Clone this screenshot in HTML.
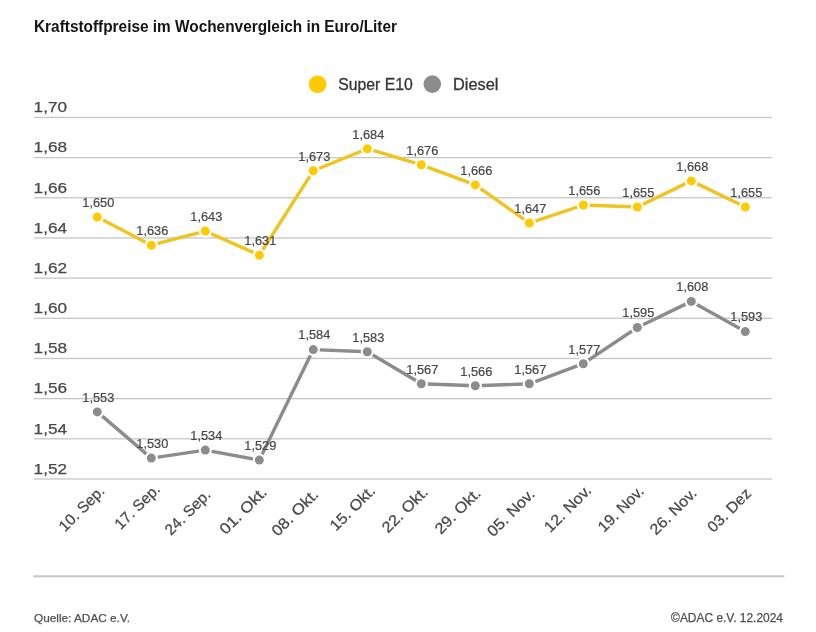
<!DOCTYPE html><html><head><meta charset="utf-8"><style>html,body{margin:0;padding:0;background:#fff;width:816px;height:632px;overflow:hidden}svg{display:block;will-change:transform}text{font-family:"Liberation Sans",sans-serif}</style></head><body>
<svg width="816" height="632" viewBox="0 0 816 632">
<rect width="816" height="632" fill="#fff"/>
<text x="34" y="31.8" font-size="16.3" font-weight="bold" fill="#141414" textLength="363" lengthAdjust="spacingAndGlyphs">Kraftstoffpreise im Wochenvergleich in Euro/Liter</text>
<circle cx="317.6" cy="84.3" r="8.8" fill="#fdcb00"/>
<text x="338.3" y="89.9" font-size="15.6" fill="#363636" stroke="#363636" stroke-width="0.3" textLength="74.5" lengthAdjust="spacingAndGlyphs">Super E10</text>
<circle cx="432.3" cy="84.1" r="8.8" fill="#8c8c8c"/>
<text x="453" y="89.7" font-size="15.6" fill="#363636" stroke="#363636" stroke-width="0.3" textLength="45.5" lengthAdjust="spacingAndGlyphs">Diesel</text>
<rect x="34" y="116.80" width="738" height="1.3" fill="#c6c6c6"/>
<text x="33.6" y="112.2" font-size="15.5" fill="#484848" stroke="#484848" stroke-width="0.25" textLength="33.4" lengthAdjust="spacingAndGlyphs">1,70</text>
<rect x="34" y="156.97" width="738" height="1.3" fill="#c6c6c6"/>
<text x="33.6" y="152.3" font-size="15.5" fill="#484848" stroke="#484848" stroke-width="0.25" textLength="33.4" lengthAdjust="spacingAndGlyphs">1,68</text>
<rect x="34" y="197.14" width="738" height="1.3" fill="#c6c6c6"/>
<text x="33.6" y="192.5" font-size="15.5" fill="#484848" stroke="#484848" stroke-width="0.25" textLength="33.4" lengthAdjust="spacingAndGlyphs">1,66</text>
<rect x="34" y="237.31" width="738" height="1.3" fill="#c6c6c6"/>
<text x="33.6" y="232.7" font-size="15.5" fill="#484848" stroke="#484848" stroke-width="0.25" textLength="33.4" lengthAdjust="spacingAndGlyphs">1,64</text>
<rect x="34" y="277.48" width="738" height="1.3" fill="#c6c6c6"/>
<text x="33.6" y="272.8" font-size="15.5" fill="#484848" stroke="#484848" stroke-width="0.25" textLength="33.4" lengthAdjust="spacingAndGlyphs">1,62</text>
<rect x="34" y="317.65" width="738" height="1.3" fill="#c6c6c6"/>
<text x="33.6" y="313.0" font-size="15.5" fill="#484848" stroke="#484848" stroke-width="0.25" textLength="33.4" lengthAdjust="spacingAndGlyphs">1,60</text>
<rect x="34" y="357.82" width="738" height="1.3" fill="#c6c6c6"/>
<text x="33.6" y="353.2" font-size="15.5" fill="#484848" stroke="#484848" stroke-width="0.25" textLength="33.4" lengthAdjust="spacingAndGlyphs">1,58</text>
<rect x="34" y="397.99" width="738" height="1.3" fill="#c6c6c6"/>
<text x="33.6" y="393.3" font-size="15.5" fill="#484848" stroke="#484848" stroke-width="0.25" textLength="33.4" lengthAdjust="spacingAndGlyphs">1,56</text>
<rect x="34" y="438.16" width="738" height="1.3" fill="#c6c6c6"/>
<text x="33.6" y="433.5" font-size="15.5" fill="#484848" stroke="#484848" stroke-width="0.25" textLength="33.4" lengthAdjust="spacingAndGlyphs">1,54</text>
<rect x="34" y="478.33" width="738" height="1.3" fill="#c6c6c6"/>
<text x="33.6" y="473.7" font-size="15.5" fill="#484848" stroke="#484848" stroke-width="0.25" textLength="33.4" lengthAdjust="spacingAndGlyphs">1,52</text>
<polyline points="97.3,217.1 151.3,245.2 205.3,231.1 259.3,255.2 313.3,170.8 367.3,148.7 421.3,164.8 475.3,184.9 529.3,223.1 583.3,205.0 637.3,207.0 691.3,180.9 745.3,207.0" fill="none" stroke="#f0c420" stroke-width="3.4" stroke-linejoin="round"/>
<circle cx="97.3" cy="217.1" r="6.6" fill="#fff"/>
<circle cx="97.3" cy="217.1" r="4.5" fill="#fdcb00"/>
<circle cx="151.3" cy="245.2" r="6.6" fill="#fff"/>
<circle cx="151.3" cy="245.2" r="4.5" fill="#fdcb00"/>
<circle cx="205.3" cy="231.1" r="6.6" fill="#fff"/>
<circle cx="205.3" cy="231.1" r="4.5" fill="#fdcb00"/>
<circle cx="259.3" cy="255.2" r="6.6" fill="#fff"/>
<circle cx="259.3" cy="255.2" r="4.5" fill="#fdcb00"/>
<circle cx="313.3" cy="170.8" r="6.6" fill="#fff"/>
<circle cx="313.3" cy="170.8" r="4.5" fill="#fdcb00"/>
<circle cx="367.3" cy="148.7" r="6.6" fill="#fff"/>
<circle cx="367.3" cy="148.7" r="4.5" fill="#fdcb00"/>
<circle cx="421.3" cy="164.8" r="6.6" fill="#fff"/>
<circle cx="421.3" cy="164.8" r="4.5" fill="#fdcb00"/>
<circle cx="475.3" cy="184.9" r="6.6" fill="#fff"/>
<circle cx="475.3" cy="184.9" r="4.5" fill="#fdcb00"/>
<circle cx="529.3" cy="223.1" r="6.6" fill="#fff"/>
<circle cx="529.3" cy="223.1" r="4.5" fill="#fdcb00"/>
<circle cx="583.3" cy="205.0" r="6.6" fill="#fff"/>
<circle cx="583.3" cy="205.0" r="4.5" fill="#fdcb00"/>
<circle cx="637.3" cy="207.0" r="6.6" fill="#fff"/>
<circle cx="637.3" cy="207.0" r="4.5" fill="#fdcb00"/>
<circle cx="691.3" cy="180.9" r="6.6" fill="#fff"/>
<circle cx="691.3" cy="180.9" r="4.5" fill="#fdcb00"/>
<circle cx="745.3" cy="207.0" r="6.6" fill="#fff"/>
<circle cx="745.3" cy="207.0" r="4.5" fill="#fdcb00"/>
<polyline points="97.3,411.9 151.3,458.1 205.3,450.1 259.3,460.1 313.3,349.6 367.3,351.7 421.3,383.8 475.3,385.8 529.3,383.8 583.3,363.7 637.3,327.5 691.3,301.4 745.3,331.6" fill="none" stroke="#8c8c8c" stroke-width="3.4" stroke-linejoin="round"/>
<circle cx="97.3" cy="411.9" r="6.6" fill="#fff"/>
<circle cx="97.3" cy="411.9" r="4.5" fill="#8c8c8c"/>
<circle cx="151.3" cy="458.1" r="6.6" fill="#fff"/>
<circle cx="151.3" cy="458.1" r="4.5" fill="#8c8c8c"/>
<circle cx="205.3" cy="450.1" r="6.6" fill="#fff"/>
<circle cx="205.3" cy="450.1" r="4.5" fill="#8c8c8c"/>
<circle cx="259.3" cy="460.1" r="6.6" fill="#fff"/>
<circle cx="259.3" cy="460.1" r="4.5" fill="#8c8c8c"/>
<circle cx="313.3" cy="349.6" r="6.6" fill="#fff"/>
<circle cx="313.3" cy="349.6" r="4.5" fill="#8c8c8c"/>
<circle cx="367.3" cy="351.7" r="6.6" fill="#fff"/>
<circle cx="367.3" cy="351.7" r="4.5" fill="#8c8c8c"/>
<circle cx="421.3" cy="383.8" r="6.6" fill="#fff"/>
<circle cx="421.3" cy="383.8" r="4.5" fill="#8c8c8c"/>
<circle cx="475.3" cy="385.8" r="6.6" fill="#fff"/>
<circle cx="475.3" cy="385.8" r="4.5" fill="#8c8c8c"/>
<circle cx="529.3" cy="383.8" r="6.6" fill="#fff"/>
<circle cx="529.3" cy="383.8" r="4.5" fill="#8c8c8c"/>
<circle cx="583.3" cy="363.7" r="6.6" fill="#fff"/>
<circle cx="583.3" cy="363.7" r="4.5" fill="#8c8c8c"/>
<circle cx="637.3" cy="327.5" r="6.6" fill="#fff"/>
<circle cx="637.3" cy="327.5" r="4.5" fill="#8c8c8c"/>
<circle cx="691.3" cy="301.4" r="6.6" fill="#fff"/>
<circle cx="691.3" cy="301.4" r="4.5" fill="#8c8c8c"/>
<circle cx="745.3" cy="331.6" r="6.6" fill="#fff"/>
<circle cx="745.3" cy="331.6" r="4.5" fill="#8c8c8c"/>
<text x="98.3" y="206.9" font-size="11.9" fill="#484848" stroke="#484848" stroke-width="0.2" text-anchor="middle" textLength="32" lengthAdjust="spacingAndGlyphs">1,650</text>
<text x="152.3" y="235.0" font-size="11.9" fill="#484848" stroke="#484848" stroke-width="0.2" text-anchor="middle" textLength="32" lengthAdjust="spacingAndGlyphs">1,636</text>
<text x="206.3" y="220.9" font-size="11.9" fill="#484848" stroke="#484848" stroke-width="0.2" text-anchor="middle" textLength="32" lengthAdjust="spacingAndGlyphs">1,643</text>
<text x="260.3" y="245.0" font-size="11.9" fill="#484848" stroke="#484848" stroke-width="0.2" text-anchor="middle" textLength="32" lengthAdjust="spacingAndGlyphs">1,631</text>
<text x="314.3" y="160.6" font-size="11.9" fill="#484848" stroke="#484848" stroke-width="0.2" text-anchor="middle" textLength="32" lengthAdjust="spacingAndGlyphs">1,673</text>
<text x="368.3" y="138.5" font-size="11.9" fill="#484848" stroke="#484848" stroke-width="0.2" text-anchor="middle" textLength="32" lengthAdjust="spacingAndGlyphs">1,684</text>
<text x="422.3" y="154.6" font-size="11.9" fill="#484848" stroke="#484848" stroke-width="0.2" text-anchor="middle" textLength="32" lengthAdjust="spacingAndGlyphs">1,676</text>
<text x="476.3" y="174.7" font-size="11.9" fill="#484848" stroke="#484848" stroke-width="0.2" text-anchor="middle" textLength="32" lengthAdjust="spacingAndGlyphs">1,666</text>
<text x="530.3" y="212.9" font-size="11.9" fill="#484848" stroke="#484848" stroke-width="0.2" text-anchor="middle" textLength="32" lengthAdjust="spacingAndGlyphs">1,647</text>
<text x="584.3" y="194.8" font-size="11.9" fill="#484848" stroke="#484848" stroke-width="0.2" text-anchor="middle" textLength="32" lengthAdjust="spacingAndGlyphs">1,656</text>
<text x="638.3" y="196.8" font-size="11.9" fill="#484848" stroke="#484848" stroke-width="0.2" text-anchor="middle" textLength="32" lengthAdjust="spacingAndGlyphs">1,655</text>
<text x="692.3" y="170.7" font-size="11.9" fill="#484848" stroke="#484848" stroke-width="0.2" text-anchor="middle" textLength="32" lengthAdjust="spacingAndGlyphs">1,668</text>
<text x="746.3" y="196.8" font-size="11.9" fill="#484848" stroke="#484848" stroke-width="0.2" text-anchor="middle" textLength="32" lengthAdjust="spacingAndGlyphs">1,655</text>
<text x="98.3" y="401.7" font-size="11.9" fill="#484848" stroke="#484848" stroke-width="0.2" text-anchor="middle" textLength="32" lengthAdjust="spacingAndGlyphs">1,553</text>
<text x="152.3" y="447.9" font-size="11.9" fill="#484848" stroke="#484848" stroke-width="0.2" text-anchor="middle" textLength="32" lengthAdjust="spacingAndGlyphs">1,530</text>
<text x="206.3" y="439.9" font-size="11.9" fill="#484848" stroke="#484848" stroke-width="0.2" text-anchor="middle" textLength="32" lengthAdjust="spacingAndGlyphs">1,534</text>
<text x="260.3" y="449.9" font-size="11.9" fill="#484848" stroke="#484848" stroke-width="0.2" text-anchor="middle" textLength="32" lengthAdjust="spacingAndGlyphs">1,529</text>
<text x="314.3" y="339.4" font-size="11.9" fill="#484848" stroke="#484848" stroke-width="0.2" text-anchor="middle" textLength="32" lengthAdjust="spacingAndGlyphs">1,584</text>
<text x="368.3" y="341.5" font-size="11.9" fill="#484848" stroke="#484848" stroke-width="0.2" text-anchor="middle" textLength="32" lengthAdjust="spacingAndGlyphs">1,583</text>
<text x="422.3" y="373.6" font-size="11.9" fill="#484848" stroke="#484848" stroke-width="0.2" text-anchor="middle" textLength="32" lengthAdjust="spacingAndGlyphs">1,567</text>
<text x="476.3" y="375.6" font-size="11.9" fill="#484848" stroke="#484848" stroke-width="0.2" text-anchor="middle" textLength="32" lengthAdjust="spacingAndGlyphs">1,566</text>
<text x="530.3" y="373.6" font-size="11.9" fill="#484848" stroke="#484848" stroke-width="0.2" text-anchor="middle" textLength="32" lengthAdjust="spacingAndGlyphs">1,567</text>
<text x="584.3" y="353.5" font-size="11.9" fill="#484848" stroke="#484848" stroke-width="0.2" text-anchor="middle" textLength="32" lengthAdjust="spacingAndGlyphs">1,577</text>
<text x="638.3" y="317.3" font-size="11.9" fill="#484848" stroke="#484848" stroke-width="0.2" text-anchor="middle" textLength="32" lengthAdjust="spacingAndGlyphs">1,595</text>
<text x="692.3" y="291.2" font-size="11.9" fill="#484848" stroke="#484848" stroke-width="0.2" text-anchor="middle" textLength="32" lengthAdjust="spacingAndGlyphs">1,608</text>
<text x="746.3" y="321.4" font-size="11.9" fill="#484848" stroke="#484848" stroke-width="0.2" text-anchor="middle" textLength="32" lengthAdjust="spacingAndGlyphs">1,593</text>
<text x="85.30" y="512.20" font-size="15.3" fill="#484848" stroke="#484848" stroke-width="0.25" text-anchor="middle" textLength="57.19" lengthAdjust="spacingAndGlyphs" transform="rotate(-45 85.30 512.20)">10. Sep.</text>
<text x="140.90" y="510.20" font-size="15.3" fill="#484848" stroke="#484848" stroke-width="0.25" text-anchor="middle" textLength="56.62" lengthAdjust="spacingAndGlyphs" transform="rotate(-45 140.90 510.20)">17. Sep.</text>
<text x="191.30" y="515.80" font-size="15.3" fill="#484848" stroke="#484848" stroke-width="0.25" text-anchor="middle" textLength="57.19" lengthAdjust="spacingAndGlyphs" transform="rotate(-45 191.30 515.80)">24. Sep.</text>
<text x="246.90" y="514.20" font-size="15.3" fill="#484848" stroke="#484848" stroke-width="0.25" text-anchor="middle" textLength="59.45" lengthAdjust="spacingAndGlyphs" transform="rotate(-45 246.90 514.20)">01. Okt.</text>
<text x="298.50" y="516.20" font-size="15.3" fill="#484848" stroke="#484848" stroke-width="0.25" text-anchor="middle" textLength="58.88" lengthAdjust="spacingAndGlyphs" transform="rotate(-45 298.50 516.20)">08. Okt.</text>
<text x="356.10" y="511.80" font-size="15.3" fill="#484848" stroke="#484848" stroke-width="0.25" text-anchor="middle" textLength="56.62" lengthAdjust="spacingAndGlyphs" transform="rotate(-45 356.10 511.80)">15. Okt.</text>
<text x="408.50" y="513.40" font-size="15.3" fill="#484848" stroke="#484848" stroke-width="0.25" text-anchor="middle" textLength="57.75" lengthAdjust="spacingAndGlyphs" transform="rotate(-45 408.50 513.40)">22. Okt.</text>
<text x="461.30" y="514.60" font-size="15.3" fill="#484848" stroke="#484848" stroke-width="0.25" text-anchor="middle" textLength="57.75" lengthAdjust="spacingAndGlyphs" transform="rotate(-45 461.30 514.60)">29. Okt.</text>
<text x="514.50" y="516.20" font-size="15.3" fill="#484848" stroke="#484848" stroke-width="0.25" text-anchor="middle" textLength="60.00" lengthAdjust="spacingAndGlyphs" transform="rotate(-45 514.50 516.20)">05. Nov.</text>
<text x="571.30" y="512.20" font-size="15.3" fill="#484848" stroke="#484848" stroke-width="0.25" text-anchor="middle" textLength="59.44" lengthAdjust="spacingAndGlyphs" transform="rotate(-45 571.30 512.20)">12. Nov.</text>
<text x="624.50" y="512.60" font-size="15.3" fill="#484848" stroke="#484848" stroke-width="0.25" text-anchor="middle" textLength="57.74" lengthAdjust="spacingAndGlyphs" transform="rotate(-45 624.50 512.60)">19. Nov.</text>
<text x="676.90" y="515.00" font-size="15.3" fill="#484848" stroke="#484848" stroke-width="0.25" text-anchor="middle" textLength="58.87" lengthAdjust="spacingAndGlyphs" transform="rotate(-45 676.90 515.00)">26. Nov.</text>
<text x="732.90" y="513.80" font-size="15.3" fill="#484848" stroke="#484848" stroke-width="0.25" text-anchor="middle" textLength="54.65" lengthAdjust="spacingAndGlyphs" transform="rotate(-45 732.90 513.80)">03. Dez</text>
<rect x="33.4" y="575.3" width="751" height="2" fill="#c6c6c6"/>
<text x="34" y="621.6" font-size="11.8" fill="#505050" stroke="#505050" stroke-width="0.25">Quelle: ADAC e.V.</text>
<text x="783" y="621.6" font-size="11.95" fill="#505050" stroke="#505050" stroke-width="0.25" text-anchor="end">©ADAC e.V. 12.2024</text>
</svg></body></html>
